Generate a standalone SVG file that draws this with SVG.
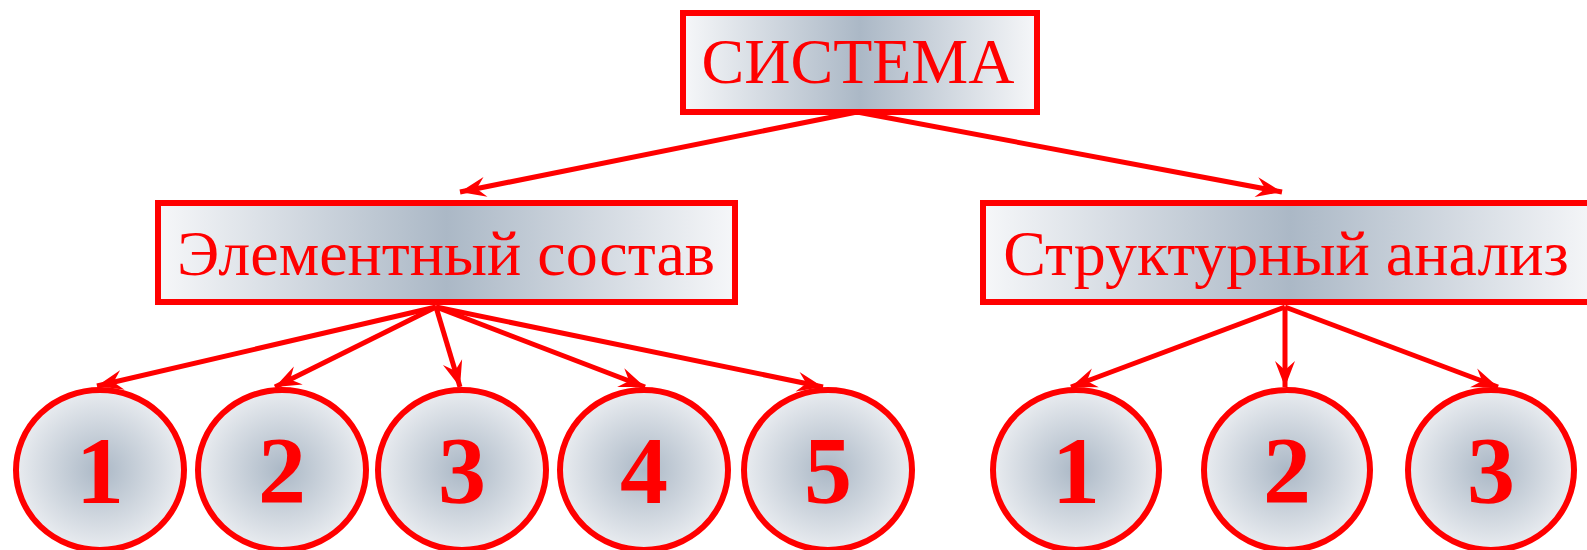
<svg xmlns="http://www.w3.org/2000/svg" width="1587" height="550" viewBox="0 0 1587 550">
<style>
.box{stroke:#ff0000;stroke-width:6}
.box-fill{fill:url(#lg)}
.oval{fill:url(#rg);stroke:#ff0000;stroke-width:6}
.lbl{font-family:"Liberation Serif","Times New Roman",serif;fill:#ff0000;text-anchor:middle}
.num{font-family:"Liberation Serif","Times New Roman",serif;fill:#ff0000;font-weight:bold;font-size:96px;text-anchor:middle}
.edge{stroke:#ff0000;stroke-width:5;fill:none;marker-end:url(#ah)}
</style>
<defs>
<linearGradient id="lg" x1="0" y1="0" x2="1" y2="0">
<stop offset="0" stop-color="#f6f7f9"/>
<stop offset="0.5" stop-color="#abb8c6"/>
<stop offset="1" stop-color="#f6f7f9"/>
</linearGradient>
<radialGradient id="rg" cx="0.5" cy="0.5" r="0.5">
<stop offset="0" stop-color="#abb8c6"/>
<stop offset="1" stop-color="#e9ecf0"/>
</radialGradient>
<marker id="ah" markerUnits="userSpaceOnUse" markerWidth="40" markerHeight="30" refX="0" refY="0" viewBox="-30 -15 32 30" orient="auto">
<path d="M0,0 L-26,-10 L-17,0 L-26,10 Z" fill="#ff0000"/>
</marker>
</defs>
<g id="connectors">
<line class="edge" x1="857" y1="112" x2="460" y2="192"/>
<line class="edge" x1="857" y1="112" x2="1282" y2="192"/>
<line class="edge" x1="436" y1="307" x2="97" y2="386"/>
<line class="edge" x1="436" y1="307" x2="275" y2="387"/>
<line class="edge" x1="436" y1="307" x2="460" y2="387"/>
<line class="edge" x1="436" y1="307" x2="645" y2="387"/>
<line class="edge" x1="436" y1="307" x2="823" y2="387"/>
<line class="edge" x1="1285" y1="307" x2="1071" y2="387"/>
<line class="edge" x1="1285" y1="307" x2="1285" y2="387"/>
<line class="edge" x1="1285" y1="307" x2="1498" y2="387"/>
</g>
<g id="node-sistema">
<rect class="box box-fill" x="683" y="13" width="354" height="99"/>
<text class="lbl" x="858" y="83" font-size="64">СИСТЕМА</text>
</g>
<g id="node-element">
<rect class="box box-fill" x="158" y="203" width="577" height="99"/>
<text class="lbl" x="446" y="275" font-size="64">Элементный состав</text>
</g>
<g id="node-struct">
<rect class="box box-fill" x="983" y="203" width="615" height="99"/>
<text class="lbl" x="1286" y="275" font-size="64">Структурный анализ</text>
</g>
<g id="node-e1"><ellipse class="oval" cx="100" cy="470" rx="84" ry="80"/><text class="num" x="100" y="503">1</text></g>
<g id="node-e2"><ellipse class="oval" cx="282" cy="470" rx="84" ry="80"/><text class="num" x="282" y="503">2</text></g>
<g id="node-e3"><ellipse class="oval" cx="462" cy="470" rx="84" ry="80"/><text class="num" x="462" y="503">3</text></g>
<g id="node-e4"><ellipse class="oval" cx="644" cy="470" rx="84" ry="80"/><text class="num" x="644" y="503">4</text></g>
<g id="node-e5"><ellipse class="oval" cx="828" cy="470" rx="84" ry="80"/><text class="num" x="828" y="503">5</text></g>
<g id="node-s1"><ellipse class="oval" cx="1076" cy="470" rx="83" ry="80"/><text class="num" x="1076" y="503">1</text></g>
<g id="node-s2"><ellipse class="oval" cx="1287" cy="470" rx="83" ry="80"/><text class="num" x="1287" y="503">2</text></g>
<g id="node-s3"><ellipse class="oval" cx="1491" cy="470" rx="83" ry="80"/><text class="num" x="1491" y="503">3</text></g>
</svg>
